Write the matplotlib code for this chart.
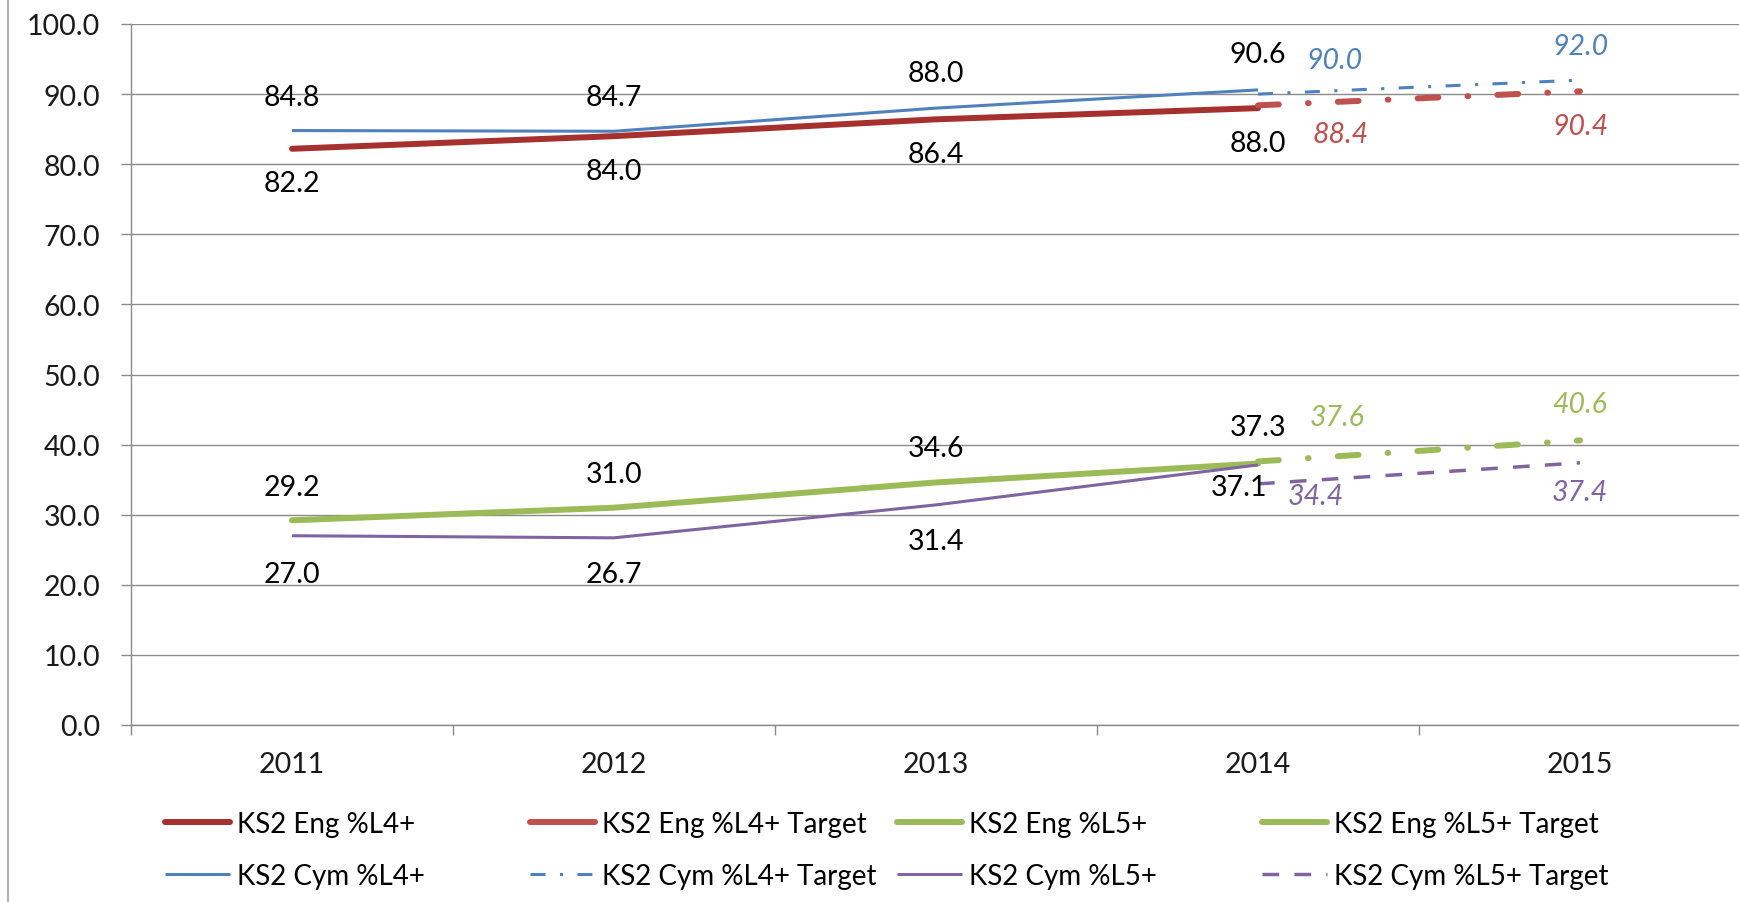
import matplotlib
matplotlib.use('Agg')
import matplotlib.pyplot as plt
from matplotlib.lines import Line2D

plt.rcParams['font.family'] = ['Lato', 'DejaVu Sans']
plt.rcParams['lines.scale_dashes'] = False

# data
years = ['2011', '2012', '2013', '2014', '2015']
eng_l4 = [82.2, 84.0, 86.4, 88.0]
eng_l4_target = [88.4, 90.4]
eng_l5 = [29.2, 31.0, 34.6, 37.3]
eng_l5_target = [37.6, 40.6]
cym_l4 = [84.8, 84.7, 88.0, 90.6]
cym_l4_target = [90.0, 92.0]
cym_l5 = [27.0, 26.7, 31.4, 37.1]
cym_l5_target = [34.4, 37.4]

actual_x = [0, 1, 2, 3]
target_x = [3, 4]

RED_D = '#A5302D'
RED = '#C0504D'
BLUE = '#4F81BD'
GREEN = '#9BBB59'
PURPLE = '#8064A2'
GRID = '#8a8a8a'

W, H = 1740, 903
fig = plt.figure(figsize=(W / 100, H / 100), dpi=100)
ax = fig.add_axes([131 / W, 1 - 726 / H, 1610 / W, 701 / H])

thick = 4.3
thin = 2.2
dashdot_thick = (0, (15, 21, 0.5, 21))
dashdot_thin = (0, (10.8, 10.4, 2.2, 10.4))
dashed = (0, (12, 11))

# series: (x, values, colour, lw, style, capstyle, label, label colour, italic, offsets in px)
series = [
    (actual_x, eng_l4, RED_D, thick, '-', 'round', 'KS2 Eng %L4+', 'black', False,
     [(0, -34), (0, -35), (0, -35), (0, -35)]),
    (target_x, eng_l4_target, RED, thick, dashdot_thick, 'round', 'KS2 Eng %L4+ Target', RED, True,
     [(83, -29), (0, -35)]),
    (actual_x, eng_l5, GREEN, thick, '-', 'round', 'KS2 Eng %L5+', 'black', False,
     [(0, 33), (0, 34), (0, 34), (0, 37)]),
    (target_x, eng_l5_target, GREEN, thick, dashdot_thick, 'round', 'KS2 Eng %L5+ Target', GREEN, True,
     [(79, 44), (0, 36)]),
    (actual_x, cym_l4, BLUE, thin, '-', 'butt', 'KS2 Cym %L4+', 'black', False,
     [(0, 34), (0, 34), (0, 35), (0, 36)]),
    (target_x, cym_l4_target, BLUE, thin, dashdot_thin, 'butt', 'KS2 Cym %L4+ Target', BLUE, True,
     [(76, 34), (0, 34)]),
    (actual_x, cym_l5, PURPLE, thin, '-', 'butt', 'KS2 Cym %L5+', 'black', False,
     [(0, -38), (0, -36), (0, -36), (-19, -22)]),
    (target_x, cym_l5_target, PURPLE, 2.5, dashed, 'butt', 'KS2 Cym %L5+ Target', PURPLE, True,
     [(58, -12), (0, -29)]),
]

handles = {}
for xs, vals, col, lw, ls, cap, lab, tcol, ital, offs in series:
    ax.plot(xs, vals, color=col, lw=lw, linestyle=ls, solid_capstyle=cap,
            dash_capstyle=cap, zorder=3)
    for x, v, (dx, dy) in zip(xs, vals, offs):
        ax.annotate(f'{v:.1f}', (x, v), xytext=(dx * 0.72, dy * 0.72),
                    textcoords='offset points', ha='center', va='center',
                    fontsize=20.5, color=tcol, style='italic' if ital else 'normal',
                    zorder=4)
    # Excel shows the Eng target lines as solid in the legend
    hls = '-' if 'Eng' in lab else ls
    handles[lab] = Line2D([], [], color=col, lw=lw, linestyle=hls,
                          solid_capstyle=cap, dash_capstyle=cap)

ax.set_ylim(0, 100)
ax.set_xlim(-0.5, 4.5)
ax.set_yticks(range(0, 101, 10))
ax.set_yticklabels([f'{v:.1f}' for v in range(0, 101, 10)])
ax.yaxis.grid(True, color=GRID, lw=1.0)
ax.set_axisbelow(True)

ax.set_xticks([i - 0.5 for i in range(6)])
ax.set_xticklabels([])
ax.set_xticks(range(5), minor=True)
ax.set_xticklabels(years, minor=True)

ax.tick_params(axis='y', direction='out', length=7, width=1, color=GRID,
               labelsize=20.5, pad=15, labelcolor='#1a1a1a')
ax.tick_params(axis='x', which='major', direction='out', length=7, width=1, color=GRID)
ax.tick_params(axis='x', which='minor', length=0, labelsize=20.5, pad=19,
               labelcolor='#1a1a1a')

for s in ['top', 'right']:
    ax.spines[s].set_visible(False)
for s in ['left', 'bottom']:
    ax.spines[s].set_color(GRID)
    ax.spines[s].set_linewidth(1.0)

# chart area border on the left
fig.add_artist(Line2D([8 / W, 8 / W], [0, 1], transform=fig.transFigure,
                      color='#a0a0a0', lw=1.2))

# legend: four columns, two rows
cols = [
    ('KS2 Eng %L4+', 'KS2 Cym %L4+', 165),
    ('KS2 Eng %L4+ Target', 'KS2 Cym %L4+ Target', 530),
    ('KS2 Eng %L5+', 'KS2 Cym %L5+', 897),
    ('KS2 Eng %L5+ Target', 'KS2 Cym %L5+ Target', 1262),
]
for top, bot, xpos in cols:
    fig.legend([handles[top], handles[bot]], [top, bot], loc='center left',
               bbox_to_anchor=(xpos / W, 1 - 851 / H), frameon=False,
               fontsize=20, handlelength=2.35, handletextpad=0.25,
               borderpad=0, borderaxespad=0, labelspacing=0.95)

fig.savefig('out.png', dpi=100, facecolor='white')
